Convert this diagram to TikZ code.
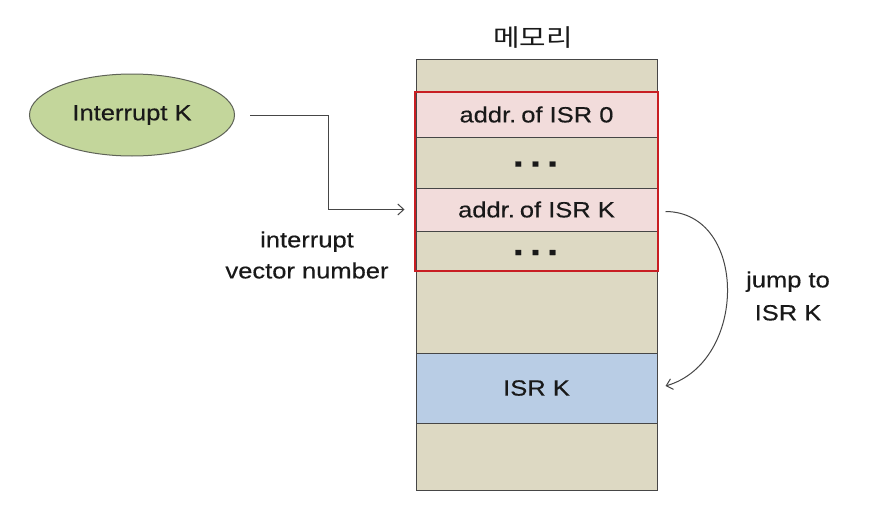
\documentclass[tikz,border=0pt]{standalone}
\usepackage{fontspec}
\setmainfont[FakeStretch=1.16,FakeBold=0.4]{Liberation Sans}
\newfontfamily\krfont[FakeStretch=1.2]{Noto Sans CJK KR}
\usetikzlibrary{arrows.meta,shapes.geometric}
\definecolor{memfill}{RGB}{221,217,195}
\definecolor{pinkfill}{RGB}{242,220,219}
\definecolor{bluefill}{RGB}{185,205,229}
\definecolor{greenfill}{RGB}{195,214,155}
\definecolor{redline}{RGB}{200,30,35}
\definecolor{lineg}{RGB}{70,70,70}
\definecolor{txt}{RGB}{25,25,25}
\begin{document}
\begin{tikzpicture}[x=1pt,y=-1pt,
  every node/.style={text=txt,font=\fontsize{22}{26}\selectfont},
  row/.style={draw=lineg,line width=1pt,minimum width=241pt,inner sep=0pt,anchor=center},
  dots/.style={font=\fontsize{34}{34}\selectfont\bfseries,inner sep=0pt},
  arr/.style={draw=lineg,line width=1pt,-{Straight Barb[length=6pt,width=11pt]}},
  lbl/.style={align=center,inner sep=0pt}]
\useasboundingbox[fill=white] (0,0) rectangle (880,527);
% memory column
\node[row,fill=memfill,minimum height=430pt] (mem) at (536.5,275) {};
\node[font=\krfont\fontsize{24}{28}\selectfont,inner sep=0pt] (memlbl) at (533,38) {메모리};
% rows
\node[row,fill=pinkfill,minimum height=45pt] (r0) at (536.5,114.5) {addr.\hspace{5pt}of ISR 0};
\node[row,fill=memfill,minimum height=51pt] (d1) at (536.5,162.5) {};
\node[row,fill=pinkfill,minimum height=43pt] (rk) at (536.5,209.5) {addr.\hspace{5pt}of ISR K};
\node[row,fill=memfill,minimum height=40pt] (d2) at (536.5,251) {};
\node[row,fill=bluefill,minimum height=70pt] (isr) at (536.5,388) {ISR K};
\node[dots] (d1t) at ([yshift=-6pt]d1.center) {·\hspace{4pt}·\hspace{4pt}·};
\node[dots] (d2t) at ([yshift=-6pt]d2.center) {·\hspace{4pt}·\hspace{4pt}·};
% red frame
\node[draw=redline,line width=1.6pt,minimum width=243pt,minimum height=179pt,inner sep=0pt] (frame) at (536.5,181.5) {};
% interrupt ellipse
\node[ellipse,draw=lineg!80!greenfill,line width=1pt,fill=greenfill,minimum width=205pt,minimum height=82pt,inner sep=0pt] (intr) at (132,115) {Interrupt K};
% arrow from interrupt to vector
\coordinate (a0) at ([xshift=15pt]intr.east);
\coordinate (a1) at ([xshift=-11pt]rk.west);
\draw[arr] (a0) -- ++(78,0) |- (a1);
\node[lbl] (ivn) at (307,255) {interrupt\\[5pt]vector number};
% jump arrow
\coordinate (j0) at ([xshift=8pt,yshift=-2pt]rk.east);
\coordinate (j1) at ([xshift=8pt,yshift=2pt]isr.east);
\draw[arr] (j0) .. controls (748,212) and (748,362) .. (j1);
\node[lbl] (jlbl) at (788,296) {jump to\\[7pt]ISR K};
\end{tikzpicture}
\end{document}
